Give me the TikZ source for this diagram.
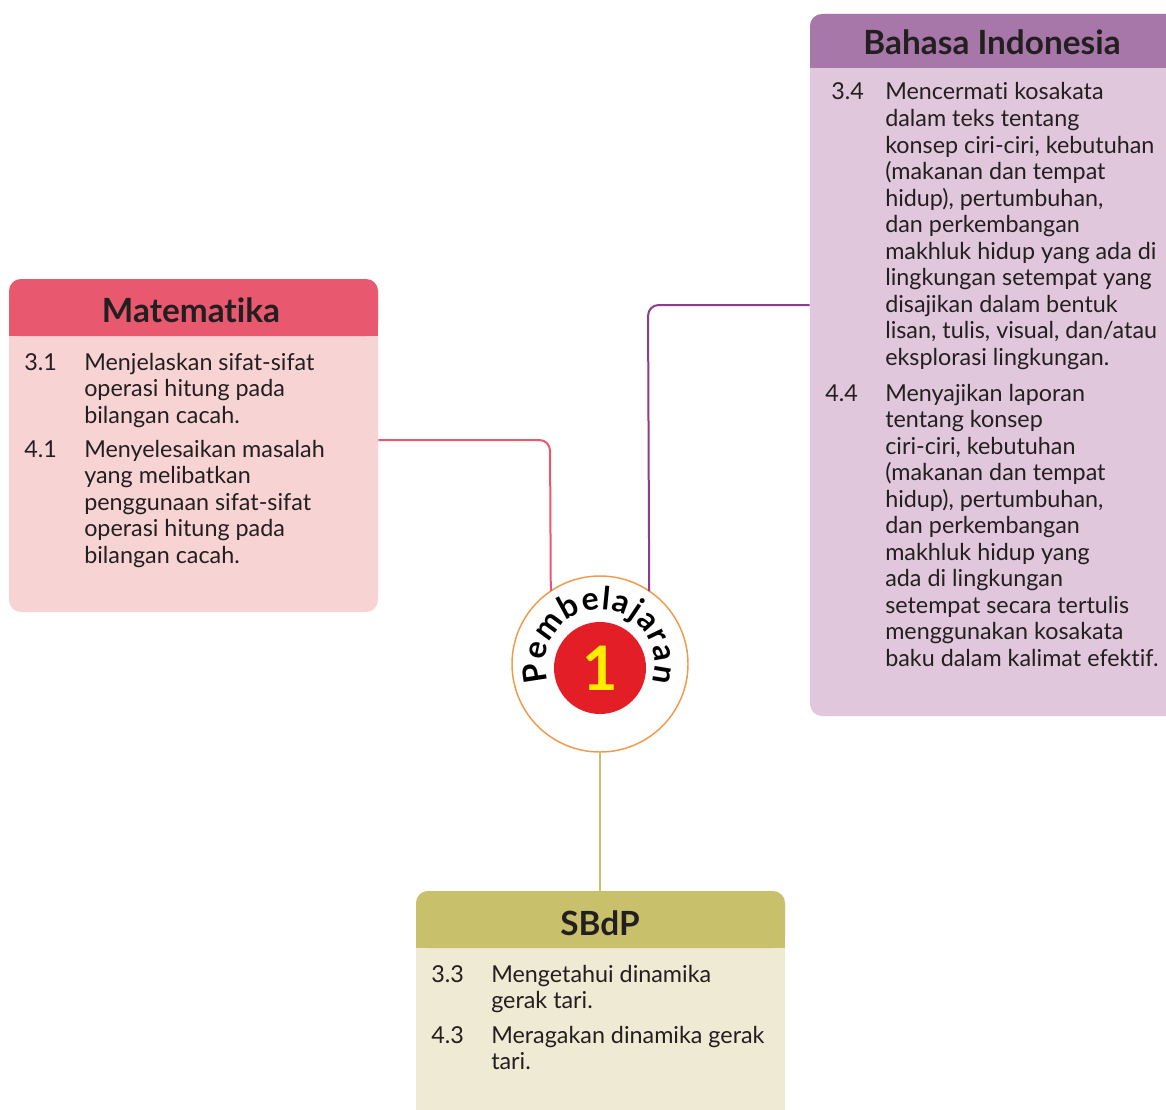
\documentclass[tikz,border=0pt]{standalone}
\usepackage{fontspec}
\setmainfont{Lato}[Ligatures={NoCommon}]
\usetikzlibrary{fit,decorations.text}
\definecolor{matHead}{HTML}{E8586E}
\definecolor{matBody}{HTML}{F8D3D3}
\definecolor{bahHead}{HTML}{A677A8}
\definecolor{bahBody}{HTML}{E1C7DC}
\definecolor{sbdHead}{HTML}{C8C06A}
\definecolor{sbdBody}{HTML}{EEEAD3}
\definecolor{bahLine}{HTML}{8E3A8F}
\definecolor{ringCol}{HTML}{F09A4A}
\definecolor{redCol}{HTML}{E31E26}
\definecolor{yelCol}{HTML}{FFED00}
\definecolor{inkCol}{HTML}{231F20}
\newcommand{\itemlines}[1]{\begin{tabular}[t]{@{}l@{}}#1\end{tabular}}
\begin{document}
\begin{tikzpicture}[x=0.75pt,y=0.75pt,
  boxbody/.style={inner sep=0pt, rounded corners=9pt},
  headtext/.style={anchor=base, inner sep=0pt, text=inkCol, font=\bfseries\fontsize{25}{25}\selectfont},
  numtext/.style={anchor=base west, inner sep=0pt, text=inkCol, font=\fontsize{17.5}{19.9}\selectfont},
  itemtext/.style={anchor=base west, inner sep=0pt, text=inkCol, font=\fontsize{17.5}{19.9}\selectfont},
  conn/.style={line width=1.5pt, rounded corners=8pt}]
\clip (0,0) rectangle (1166,-1109);
\fill[white] (0,0) rectangle (1166,-1109);

% Matematika box
\node[boxbody, fill=matBody, fit={(9,-279) (378,-612)}] (matbox) {};
\fill[matHead, rounded corners=9pt] (9,-279) rectangle (378,-336);
\fill[matHead] (9,-300) rectangle (378,-336);
\node[headtext] (mathead) at (191,-322) {Matematika};
\node[numtext] (m31n) at (24,-370) {3.1};
\node[itemtext] (m31t) at (84,-370) {\itemlines{Menjelaskan sifat-sifat\\operasi hitung pada\\bilangan cacah.}};
\node[numtext] (m41n) at (24,-457) {4.1};
\node[itemtext] (m41t) at (84,-457) {\itemlines{Menyelesaikan masalah\\yang melibatkan\\penggunaan sifat-sifat\\operasi hitung pada\\bilangan cacah.}};

% Bahasa Indonesia box
\node[boxbody, fill=bahBody, fit={(810,-14) (1185,-716)}] (bahbox) {};
\fill[bahHead, rounded corners=9pt] (810,-14) rectangle (1185,-68);
\fill[bahHead] (810,-35) rectangle (1185,-68);
\node[headtext] (bahhead) at (992,-55) {Bahasa Indonesia};
\node[numtext] (b34n) at (831,-100) {3.4};
\node[itemtext] (b34t) at (885,-100) {\itemlines{Mencermati kosakata\\dalam teks tentang\\konsep ciri-ciri, kebutuhan\\(makanan dan tempat\\hidup), pertumbuhan,\\dan perkembangan\\makhluk hidup yang ada di\\lingkungan setempat yang\\disajikan dalam bentuk\\lisan, tulis, visual, dan/atau\\eksplorasi lingkungan.}};
\node[numtext] (b44n) at (825,-401) {4.4};
\node[itemtext] (b44t) at (885,-401) {\itemlines{Menyajikan laporan\\tentang konsep\\ciri-ciri, kebutuhan\\(makanan dan tempat\\hidup), pertumbuhan,\\dan perkembangan\\makhluk hidup yang\\ada di lingkungan\\setempat secara tertulis\\menggunakan kosakata\\baku dalam kalimat efektif.}};

% SBdP box
\node[boxbody, fill=sbdBody, fit={(416,-891) (785,-1125)}] (sbdbox) {};
\fill[sbdHead, rounded corners=9pt] (416,-891) rectangle (785,-948);
\fill[sbdHead] (416,-912) rectangle (785,-948);
\node[headtext] (sbdhead) at (600,-935) {SBdP};
\node[numtext] (s33n) at (431,-982) {3.3};
\node[itemtext] (s33t) at (491,-982) {\itemlines{Mengetahui dinamika\\gerak tari.}};
\node[numtext] (s43n) at (431,-1043) {4.3};
\node[itemtext] (s43t) at (491,-1043) {\itemlines{Meragakan dinamika gerak\\tari.}};

% central circle
\node[circle, draw=ringCol, line width=1.1pt, fill=white, minimum size=132pt, inner sep=0pt, outer sep=0pt] (circ) at (600,-664) {};
\node[circle, fill=redCol, minimum size=69pt, inner sep=0pt] (redc) at (600,-668) {};
\node[text=yelCol, font=\bfseries\fontsize{46}{46}\selectfont, inner sep=0pt] (one) at (redc.center) {1};
\path[decorate, decoration={text along path, text align=fit to path,
   text={|\bfseries\fontsize{24}{24}\selectfont|Pembelajaran}}]
   (600,-664) ++(199:41pt) arc[start angle=199, end angle=-19, radius=41pt];

% connectors
\draw[conn, matHead] (matbox.east |- 0,-440) -- (550,-440) -- (circ.124.6);
\draw[conn, bahLine] (bahbox.west |- 0,-305) -- (648,-305) -- (circ.56.9);
\draw[line width=1.5pt, sbdHead] (circ.south) -- (circ.south |- sbdbox.north);
\end{tikzpicture}
\end{document}
